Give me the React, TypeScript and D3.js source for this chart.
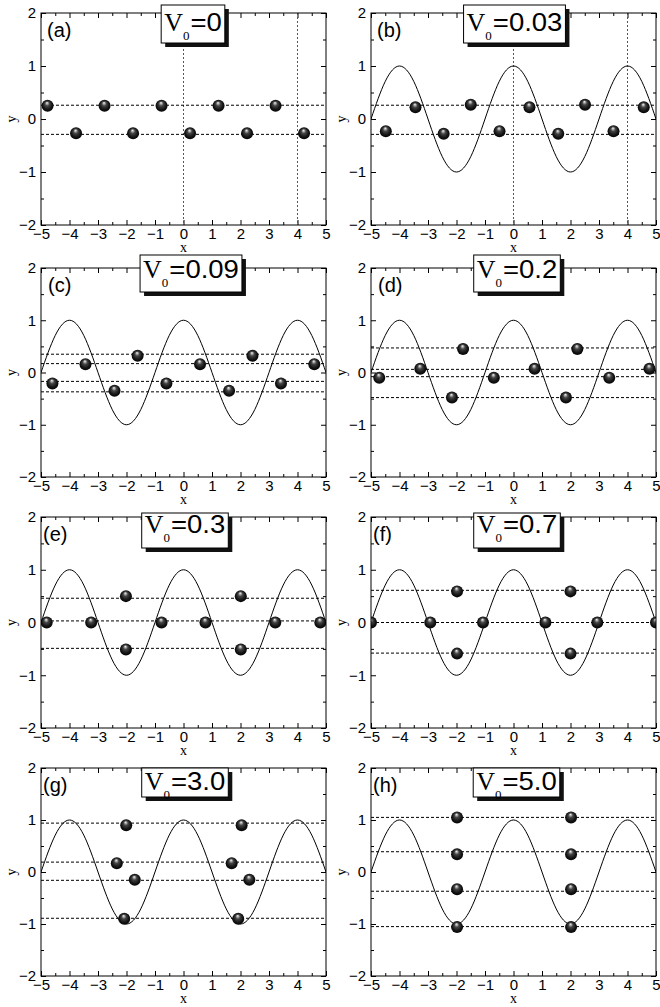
import React, { useEffect, useRef } from 'react';
import * as d3 from 'd3';

// ---------- data ----------
const panelLabels = ['(a)', '(b)', '(c)', '(d)', '(e)', '(f)', '(g)', '(h)'];
const v0Values = ['0', '0.03', '0.09', '0.2', '0.3', '0.7', '3.0', '5.0'];
const hasCurve = [false, true, true, true, true, true, true, true];

const xTickValues = [-5, -4, -3, -2, -1, 0, 1, 2, 3, 4, 5];
const xMinorTicks = [-4.5, -3.5, -2.5, -1.5, -0.5, 0.5, 1.5, 2.5, 3.5, 4.5];
const yTickValues = [-2, -1, 0, 1, 2];
const yMinorTicks = [-1.5, -0.5, 0.5, 1.5];

// potential curve
const curveX = [-5, -4.5, -4, -3.5, -3, -2.5, -2, -1.5, -1, -0.5, 0, 0.5, 1, 1.5, 2, 2.5, 3, 3.5, 4, 4.5, 5];
const curveY = [0, 0.71, 1, 0.71, 0, -0.71, -1, -0.71, 0, 0.71, 1, 0.71, 0, -0.71, -1, -0.71, 0, 0.71, 1, 0.71, 0];

const ballsA: [number, number][] = [
  [-4.77, 0.25], [-2.77, 0.25], [-0.77, 0.25], [1.23, 0.25], [3.23, 0.25],
  [-3.77, -0.27], [-1.77, -0.27], [0.23, -0.27], [2.23, -0.27], [4.23, -0.27],
];
const ballsB: [number, number][] = [
  [-4.48, -0.23], [-3.44, 0.22], [-2.45, -0.28], [-1.5, 0.27], [-0.49, -0.23],
  [0.56, 0.22], [1.57, -0.28], [2.51, 0.27], [3.51, -0.23], [4.57, 0.22],
];
const ballsC: [number, number][] = [
  [-4.6, -0.21], [-3.44, 0.16], [-2.42, -0.35], [-1.61, 0.32], [-0.6, -0.21],
  [0.58, 0.16], [1.6, -0.35], [2.42, 0.32], [3.42, -0.21], [4.59, 0.16],
];
const ballsD: [number, number][] = [
  [-4.71, -0.1], [-3.27, 0.07], [-2.16, -0.48], [-1.77, 0.45], [-0.69, -0.1],
  [0.74, 0.07], [1.84, -0.48], [2.24, 0.45], [3.36, -0.1], [4.77, 0.07],
];
const ballsE: [number, number][] = [
  [-4.8, 0], [-3.24, 0], [-2.02, 0.5], [-2.02, -0.51], [-0.77, 0],
  [0.77, 0], [2.01, 0.5], [2.01, -0.51], [3.22, 0], [4.8, 0],
];
const ballsF: [number, number][] = [
  [-5, 0], [-2.92, 0], [-1.98, 0.59], [-1.98, -0.59], [-1.07, 0],
  [1.12, 0], [2.0, 0.59], [2.0, -0.59], [2.94, 0], [5, 0],
];
const ballsG: [number, number][] = [
  [-2.01, 0.9], [-2.34, 0.17], [-1.71, -0.15], [-2.08, -0.9],
  [2.04, 0.9], [1.69, 0.17], [2.31, -0.15], [1.92, -0.9],
];
const ballsH: [number, number][] = [
  [-1.98, 1.05], [-1.98, 0.34], [-1.98, -0.33], [-1.98, -1.06],
  [2.02, 1.05], [2.02, 0.34], [2.02, -0.33], [2.02, -1.06],
];
const allBalls = [ballsA, ballsB, ballsC, ballsD, ballsE, ballsF, ballsG, ballsH];

const levelsA = [0.26, -0.29];
const levelsB = [0.26, -0.29];
const levelsC = [0.35, 0.17, -0.17, -0.37];
const levelsD = [0.47, 0.06, -0.08, -0.48];
const levelsE = [0.46, 0.03, -0.49];
const levelsF = [0.61, 0, -0.58];
const levelsG = [0.94, 0.19, -0.16, -0.89];
const levelsH = [1.05, 0.39, -0.37, -1.05];
const allLevels = [levelsA, levelsB, levelsC, levelsD, levelsE, levelsF, levelsG, levelsH];

const guidesA = [0, 4];
const guidesB = [0, 4];
const allGuides = [guidesA, guidesB, [], [], [], [], [], []];

// ---------- layout ----------
const W = 660;
const H = 1007;
const colLeft = [41, 371];
const plotW = 285;
const rowTop = [13, 268, 517, 768];
const rowH = [212, 209, 211, 208];
const titleTop = [5, 255, 513, 768];
const titleH = [38, 37, 35, 29];
const titleBase = [31, 278, 533, 790];
const titleDx = [9.5, 1, 7.5, 3.5, 1.5, 3.5, 1.5, 3];
const labelDx = [6, 7, 2, 2];

const SANS = '"Liberation Sans", Arial, Helvetica, sans-serif';
const SERIF = '"Liberation Serif", "Times New Roman", Times, serif';

export default function App() {
  const ref = useRef<SVGSVGElement>(null);

  useEffect(() => {
    const svg = d3.select(ref.current);
    svg.selectAll('*').remove();

    const defs = svg.append('defs');
    const grad = defs
      .append('radialGradient')
      .attr('id', 'ballGrad')
      .attr('cx', '50%')
      .attr('cy', '50%')
      .attr('r', '55%')
      .attr('fx', '45%')
      .attr('fy', '24%');
    [
      [0, '#f4f4f4'],
      [0.14, '#b0b0b0'],
      [0.35, '#444'],
      [0.7, '#151515'],
      [1, '#000'],
    ].forEach(([o, c]) => grad.append('stop').attr('offset', o as number).attr('stop-color', c as string));

    const fmt = (d: d3.NumberValue) => d3.format('d')(d as number);

    panelLabels.forEach((lab, i) => {
      const col = i % 2;
      const row = Math.floor(i / 2);
      const left = colLeft[col];
      const top = rowTop[row];
      const h = rowH[row];
      const x = d3.scaleLinear().domain([-5, 5]).range([left, left + plotW]);
      const y = d3.scaleLinear().domain([-2, 2]).range([top + h, top]);

      const pg = svg.append('g');
      const clipId = `clip${i}`;
      defs
        .append('clipPath')
        .attr('id', clipId)
        .append('rect')
        .attr('x', left)
        .attr('y', top)
        .attr('width', plotW)
        .attr('height', h);

      const styleAxis = (g: d3.Selection<SVGGElement, unknown, null, undefined>) => {
        g.select('.domain').remove();
        g.selectAll('line').attr('stroke', '#000').attr('stroke-width', 1);
        g.attr('font-family', SANS).attr('font-size', 15);
        g.selectAll('text').attr('fill', '#000');
      };

      // axes (inward ticks)
      pg.append('g')
        .attr('transform', `translate(0,${top + h})`)
        .call(d3.axisBottom(x).tickValues(xTickValues).tickSize(-5).tickSizeOuter(0).tickPadding(3).tickFormat(fmt))
        .call(styleAxis);
      pg.append('g')
        .attr('transform', `translate(0,${top + h})`)
        .call(d3.axisBottom(x).tickValues(xMinorTicks).tickSize(-3).tickSizeOuter(0).tickFormat(() => ''))
        .call(styleAxis);
      pg.append('g')
        .attr('transform', `translate(0,${top})`)
        .call(d3.axisTop(x).tickValues(xTickValues).tickSize(-5).tickSizeOuter(0).tickFormat(() => ''))
        .call(styleAxis);
      pg.append('g')
        .attr('transform', `translate(0,${top})`)
        .call(d3.axisTop(x).tickValues(xMinorTicks).tickSize(-3).tickSizeOuter(0).tickFormat(() => ''))
        .call(styleAxis);
      pg.append('g')
        .attr('transform', `translate(${left},0)`)
        .call(d3.axisLeft(y).tickValues(yTickValues).tickSize(-5).tickSizeOuter(0).tickPadding(5).tickFormat(fmt))
        .call(styleAxis);
      pg.append('g')
        .attr('transform', `translate(${left},0)`)
        .call(d3.axisLeft(y).tickValues(yMinorTicks).tickSize(-3).tickSizeOuter(0).tickFormat(() => ''))
        .call(styleAxis);
      pg.append('g')
        .attr('transform', `translate(${left + plotW},0)`)
        .call(d3.axisRight(y).tickValues(yTickValues).tickSize(-5).tickSizeOuter(0).tickFormat(() => ''))
        .call(styleAxis);
      pg.append('g')
        .attr('transform', `translate(${left + plotW},0)`)
        .call(d3.axisRight(y).tickValues(yMinorTicks).tickSize(-3).tickSizeOuter(0).tickFormat(() => ''))
        .call(styleAxis);

      // axis titles
      pg.append('text')
        .attr('x', left + plotW / 2)
        .attr('y', top + h + 27)
        .attr('text-anchor', 'middle')
        .attr('font-family', SERIF)
        .attr('font-size', 14)
        .attr('fill', '#000')
        .text('x');
      pg.append('text')
        .attr('transform', `translate(${left - 25},${y(0)}) rotate(-90)`)
        .attr('text-anchor', 'middle')
        .attr('font-family', SERIF)
        .attr('font-size', 14)
        .attr('fill', '#000')
        .text('y');

      const inner = pg.append('g').attr('clip-path', `url(#${clipId})`);

      // vertical dotted guides
      inner
        .selectAll('line.guide')
        .data(allGuides[i])
        .join('line')
        .attr('x1', (d) => x(d))
        .attr('x2', (d) => x(d))
        .attr('y1', top)
        .attr('y2', top + h)
        .attr('stroke', '#555')
        .attr('stroke-width', 1)
        .attr('stroke-dasharray', '2,2');

      // horizontal dashed levels
      inner
        .selectAll('line.level')
        .data(allLevels[i])
        .join('line')
        .attr('x1', left)
        .attr('x2', left + plotW)
        .attr('y1', (d) => y(d))
        .attr('y2', (d) => y(d))
        .attr('stroke', '#000')
        .attr('stroke-width', 1)
        .attr('stroke-dasharray', '3,2');

      // potential curve
      if (hasCurve[i]) {
        const line = d3
          .line<number>()
          .x((_, k) => x(curveX[k]))
          .y((d) => y(d))
          .curve(d3.curveNatural);
        inner
          .append('path')
          .attr('d', line(curveY))
          .attr('fill', 'none')
          .attr('stroke', '#000')
          .attr('stroke-width', 1);
      }

      // balls
      inner
        .selectAll('circle.ball')
        .data(allBalls[i])
        .join('circle')
        .attr('cx', (d) => x(d[0]))
        .attr('cy', (d) => y(d[1]))
        .attr('r', 6)
        .attr('fill', 'url(#ballGrad)');

      // frame
      pg.append('rect')
        .attr('x', left)
        .attr('y', top)
        .attr('width', plotW)
        .attr('height', h)
        .attr('fill', 'none')
        .attr('stroke', '#000')
        .attr('stroke-width', 1);

      // panel label
      pg.append('text')
        .attr('x', left + labelDx[row])
        .attr('y', top + 24)
        .attr('font-family', SANS)
        .attr('font-size', 20)
        .attr('fill', '#000')
        .text(lab);

      // title box
      const tg = pg.append('g');
      const shadow = tg.append('rect').attr('fill', '#111');
      const box = tg.append('rect').attr('fill', '#fff').attr('stroke', '#000').attr('stroke-width', 1);
      const t1 = tg.append('text').attr('font-family', SERIF).attr('fill', '#000');
      t1.append('tspan').attr('font-size', 26).text('V');
      t1.append('tspan').attr('font-size', 13).attr('dy', 9).text('0');
      const sx = 1.1;
      const t2 = tg
        .append('text')
        .attr('font-family', SANS)
        .attr('font-size', 25)
        .attr('fill', '#000')
        .text('=' + v0Values[i]);
      const w1 = (t1.node() as SVGTextElement).getComputedTextLength();
      const w2 = (t2.node() as SVGTextElement).getComputedTextLength() * sx;
      const pad = 3;
      const tw = w1 + w2 + 1;
      const cx = left + plotW / 2 + titleDx[i];
      const bx = cx - tw / 2 - pad;
      const bw = tw + 2 * pad;
      const by = titleTop[row];
      const bh = titleH[row];
      shadow.attr('x', bx + 4).attr('y', by + 4).attr('width', bw).attr('height', bh);
      box.attr('x', bx).attr('y', by).attr('width', bw).attr('height', bh);
      t1.attr('x', bx + pad).attr('y', titleBase[row]);
      t2.attr('transform', `translate(${bx + pad + w1 + 1},${titleBase[row]}) scale(${sx},1)`);
    });
  }, []);

  return (
    <svg
      ref={ref}
      width={W}
      height={H}
      style={{ position: 'absolute', left: 0, top: 0, background: '#fff' }}
    />
  );
}
